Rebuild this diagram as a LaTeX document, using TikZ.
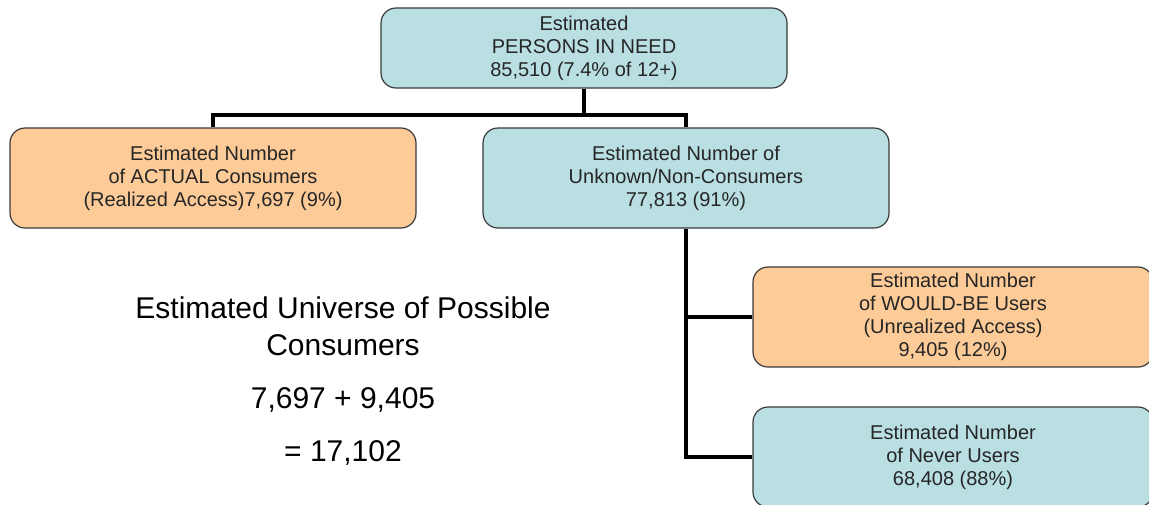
\documentclass[tikz,border=0pt]{standalone}
\usepackage{fontspec}
\setmainfont{Liberation Sans}
\definecolor{boxblue}{HTML}{B9DFE3}
\definecolor{boxorange}{HTML}{FDCB98}
\definecolor{boxedge}{HTML}{3A3A3A}
\begin{document}
\begin{tikzpicture}[x=1pt,y=-1pt,
  box/.style={draw=boxedge,line width=1.2pt,rounded corners=15pt,align=center,
    font=\fontsize{20}{23}\selectfont,text=black!85,inner sep=0pt},
  bluebox/.style={box,fill=boxblue},
  orangebox/.style={box,fill=boxorange},
  link/.style={line width=4pt,black},
  bigtext/.style={font=\fontsize{30}{35}\selectfont,align=center,text=black}]
\useasboundingbox (0,0) rectangle (1149,504);
\clip (0,0) rectangle (1149,504);
\fill[white] (0,0) rectangle (1149,504);
\node[bluebox,minimum width=406pt,minimum height=80pt] (top) at (584,48)
  {Estimated\\PERSONS IN NEED\\85,510 (7.4\% of 12+)};
\node[orangebox,minimum width=406pt,minimum height=100pt] (act) at (213,178)
  {Estimated Number\\of ACTUAL Consumers\\(Realized Access)7,697 (9\%)};
\node[bluebox,minimum width=406pt,minimum height=100pt] (unk) at (686,178)
  {Estimated Number of\\Unknown/Non-Consumers\\77,813 (91\%)};
\node[orangebox,minimum width=400pt,minimum height=100pt] (wb) at (953,317)
  {Estimated Number\\of WOULD-BE Users\\(Unrealized Access)\\9,405 (12\%)};
\node[bluebox,minimum width=400pt,minimum height=100pt] (nv) at (953,457)
  {Estimated Number\\of Never Users\\68,408 (88\%)};
\coordinate (j1) at (584,115);
\draw[link] (top.south) -- (j1);
\draw[link] (act.north) |- (j1);
\draw[link] (unk.north) |- (j1);
\draw[link] (wb.west) -| (unk.south);
\draw[link] (unk.south) |- (nv.west);
\node[bigtext] (u1) at (343,308) {Estimated Universe of Possible};
\node[bigtext] (u2) at (343,345) {Consumers};
\node[bigtext] (u3) at (343,400) {7,697 + 9,405};
\node[bigtext] (u4) at (343,453) {= 17,102};
\end{tikzpicture}
\end{document}
